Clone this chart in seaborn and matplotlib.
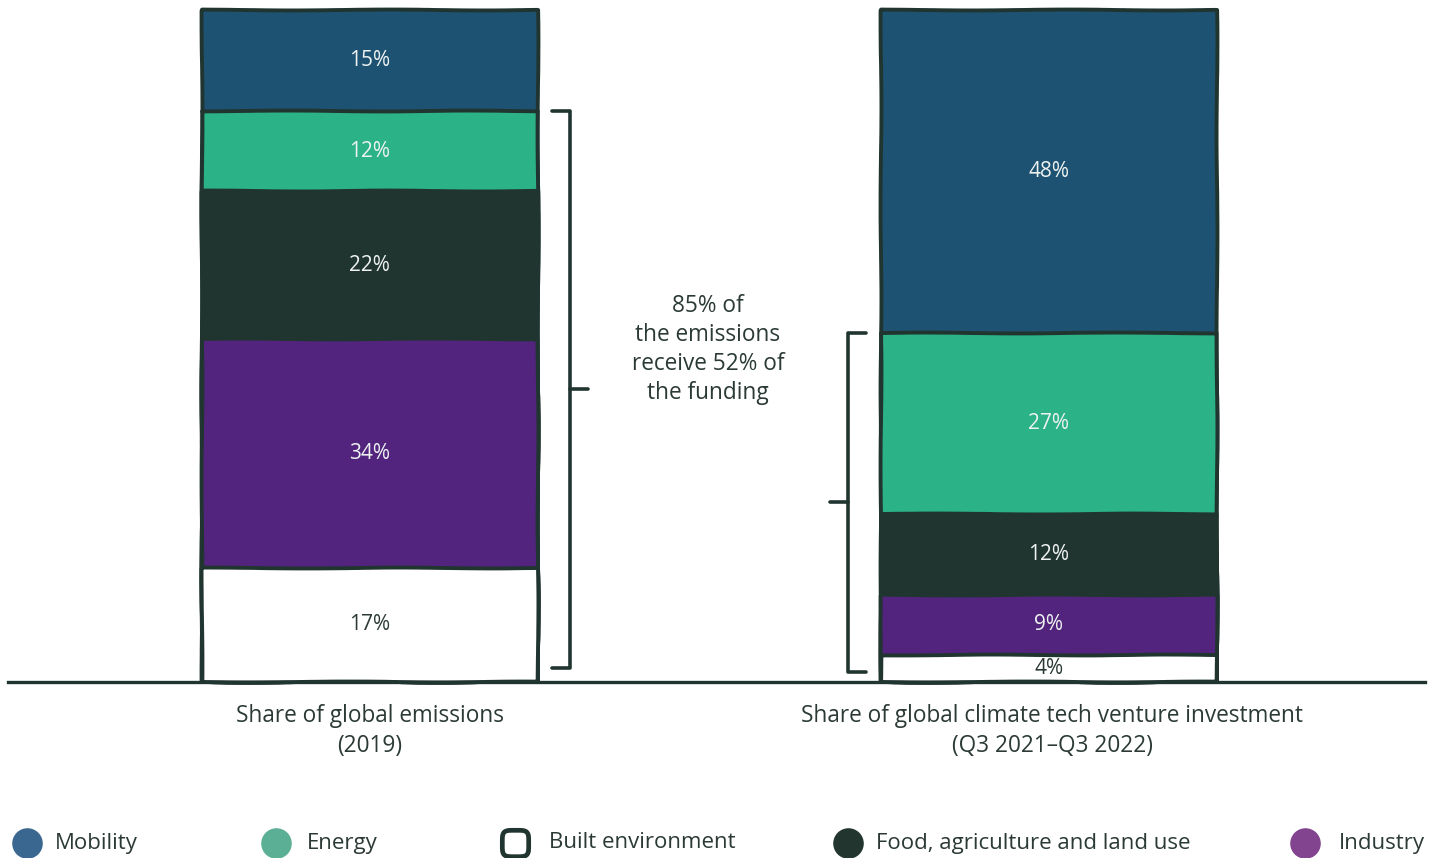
import numpy as np
import pandas as pd
import matplotlib
matplotlib.use("Agg")
import matplotlib.pyplot as plt
import seaborn as sns
from matplotlib.lines import Line2D
from matplotlib.path import Path

# ---- data -------------------------------------------------------------
columns = [
    "Share of global emissions\n(2019)",
    "Share of global climate tech venture investment\n(Q3 2021\u2013Q3 2022)",
]
# sectors listed bottom to top of each stack
sectors = ["Built environment", "Industry", "Food, agriculture and land use", "Energy", "Mobility"]
emissions = [17, 34, 22, 12, 15]
investment = [4, 9, 12, 27, 48]
label_text = ["{}%".format(v) for v in emissions], ["{}%".format(v) for v in investment]

legend_order = ["Mobility", "Energy", "Built environment", "Food, agriculture and land use", "Industry"]
bracket_note = "85% of\nthe emissions\nreceive 52% of\nthe funding"

# ---- styling ----------------------------------------------------------
DARK = "#213530"
TEXT = "#2B3A36"
bar_colors = {
    "Built environment": "#FFFFFF",
    "Industry": "#53247E",
    "Food, agriculture and land use": "#213530",
    "Energy": "#2BB287",
    "Mobility": "#1E5273",
}
legend_colors = {
    "Mobility": "#3A6790",
    "Energy": "#5BAF95",
    "Built environment": "#FFFFFF",
    "Food, agriculture and land use": "#22362F",
    "Industry": "#82438F",
}
label_colors = {
    "Built environment": TEXT,
    "Industry": "#EEF2F1",
    "Food, agriculture and land use": "#EEF2F1",
    "Energy": "#EEF2F1",
    "Mobility": "#EEF2F1",
}

sns.set_theme(style="white")
plt.rcParams["font.family"] = ["Open Sans", "DejaVu Sans"]

W, H = 1435, 858
fig = plt.figure(figsize=(W / 100, H / 100), dpi=100)
ax = fig.add_axes([8 / W, 1 - 682 / H, (1425 - 8) / W, (682 - 10) / H])

# ---- stacked bars (cumulative tops drawn largest first) ---------------
values = np.array([emissions, investment])          # shape (2 columns, 5 sectors)
tops = np.cumsum(values, axis=1)
for i in reversed(range(len(sectors))):
    df = pd.DataFrame({"column": columns, "top": tops[:, i]})
    sns.barplot(data=df, x="column", y="top", color=bar_colors[sectors[i]],
                saturation=1, width=0.495, errorbar=None,
                edgecolor=DARK, linewidth=2.8, ax=ax)

for p in ax.patches:
    p.set_clip_on(False)
    p.set_joinstyle("round")
    p.set_sketch_params(0.45, 260, 4)

# segment labels
for c in range(len(columns)):
    for i, s in enumerate(sectors):
        centre = tops[c, i] - values[c, i] / 2
        ax.text(c, centre, label_text[c][i], ha="center", va="center",
                fontsize=15, color=label_colors[s])

# ---- brackets -------------------------------------------------------------
def bracket(x, top, bottom, hook, tick):
    mid = (top + bottom) / 2
    ax.plot([x + hook, x, x, x + hook], [top, top, bottom, bottom],
            color=DARK, lw=2.6, solid_capstyle="round", solid_joinstyle="round",
            clip_on=False)
    ax.plot([x, x + tick], [mid, mid], color=DARK, lw=2.6,
            solid_capstyle="round", clip_on=False)

bracket(0.295, tops[0, 3], 2.1, -0.027, 0.026)
bracket(0.704, tops[1, 3], 1.5, 0.026, -0.027)
ax.text(0.498, 49.5, bracket_note, ha="center", va="center",
        fontsize=16.3, color=TEXT, linespacing=1.28)

# ---- axes -------------------------------------------------------------
ax.set_xlim(-0.533, 1.554)
ax.set_ylim(0, 100)
ax.set_xlabel("")
ax.set_ylabel("")
ax.set_yticks([])
for side in ["left", "right", "top"]:
    ax.spines[side].set_visible(False)
ax.spines["bottom"].set_color(DARK)
ax.spines["bottom"].set_linewidth(2.4)
ax.tick_params(axis="x", length=0, pad=16, labelsize=16.3, labelcolor=TEXT)
ax.set_xticks([0, 1.005])
ax.set_xticklabels(columns, linespacing=1.3)

# ---- legend row -------------------------------------------------------
# rounded-square outline used for the unfilled legend key
t = np.linspace(0, 2 * np.pi, 80)
sq_x = np.sign(np.cos(t)) * np.abs(np.cos(t)) ** 0.45
sq_y = np.sign(np.sin(t)) * np.abs(np.sin(t)) ** 0.45
rounded_square = Path(np.column_stack([sq_x, sq_y]), closed=True)

marker_x = [27, 276, 515, 848, 1305]
text_x = [55, 307, 549, 876, 1339]
ly = 1 - 843 / H
for name, mx, tx in zip(legend_order, marker_x, text_x):
    if name == "Built environment":
        m = Line2D([mx / W], [ly], marker=rounded_square, ms=19, mfc="white",
                   mec=DARK, mew=3.4, transform=fig.transFigure)
    else:
        m = Line2D([mx / W], [ly], marker="o", ms=21, mfc=legend_colors[name],
                   mec=legend_colors[name], transform=fig.transFigure)
    fig.add_artist(m)
    fig.text(tx / W, ly, name, ha="left", va="center", fontsize=16, color=TEXT)

fig.savefig("out.png", dpi=100, facecolor="white")
